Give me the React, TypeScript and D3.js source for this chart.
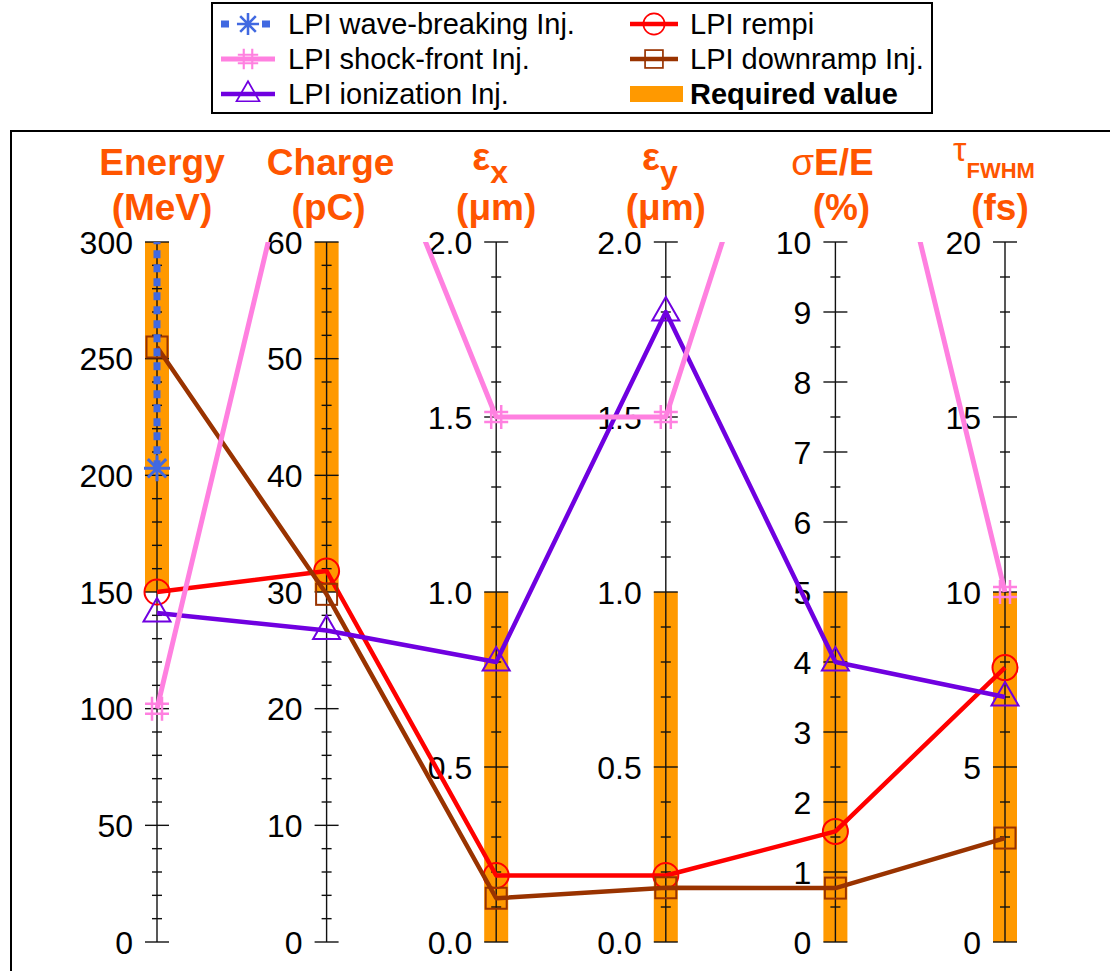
import React, { useEffect, useRef } from "react";
import * as d3 from "d3";

// ---- data ----
const axisNames = ["Energy", "Charge", "εx", "εy", "σE/E", "τFWHM"];
const axisMax = [300, 60, 2.0, 2.0, 10, 20];
const majorStep = [50, 10, 0.5, 0.5, 1, 5];
const minorStep = [10, 2, 0.1, 0.1, 0.5, 1];
const tickDecimals = [0, 0, 1, 1, 0, 0];
const requiredLow = [150, 30, 0, 0, 0, 0];
const requiredHigh = [300, 60, 1.0, 1.0, 5, 10];

const rempi = [150, 31.8, 0.19, 0.19, 1.58, 7.84];
const downramp = [255, 29.8, 0.125, 0.155, 0.77, 2.97];
const ionization = [141, 26.7, 0.8, 1.8, 4.0, 7.0];
const shockFront = [100, 81, 1.5, 1.5, 15, 10];
const waveBreakingEnergy = [203, 300];

const legendLabels = [
  "LPI wave-breaking Inj.",
  "LPI shock-front Inj.",
  "LPI ionization Inj.",
  "LPI rempi",
  "LPI downramp Inj.",
  "Required value",
];

const C = {
  orange: "#ff9900",
  header: "#ff5500",
  blue: "#4169e1",
  pink: "#ff80e0",
  purple: "#7000e0",
  red: "#ff0000",
  brown: "#993300",
};

const FONT = "'Liberation Sans', Arial, Helvetica, sans-serif";

type Sel = d3.Selection<SVGGElement, unknown, null, undefined>;

function drawMarker(g: Sel, kind: string, x: number, y: number, color: string, s = 1) {
  const m = g.append("g").attr("transform", `translate(${x},${y}) scale(${s})`).attr("fill", "none").attr("stroke", color);
  if (kind === "circle") {
    m.append("circle").attr("r", 12.5).attr("stroke-width", 2);
  } else if (kind === "square") {
    m.append("rect").attr("x", -10.5).attr("y", -10.5).attr("width", 21).attr("height", 21).attr("stroke-width", 2);
  } else if (kind === "triangle") {
    m.append("path").attr("d", "M0,-15 L13.5,8.5 L-13.5,8.5 Z").attr("stroke-width", 2);
  } else if (kind === "hash") {
    const p = d3.path();
    [-5, 5].forEach((o) => {
      p.moveTo(o, -12); p.lineTo(o, 12);
      p.moveTo(-12, o); p.lineTo(12, o);
    });
    m.append("path").attr("d", p.toString()).attr("stroke-width", 2.5);
  } else if (kind === "star") {
    const p = d3.path();
    for (let i = 0; i < 4; i++) {
      const a = (i * Math.PI) / 4;
      p.moveTo(-13 * Math.cos(a), -13 * Math.sin(a));
      p.lineTo(13 * Math.cos(a), 13 * Math.sin(a));
    }
    m.append("path").attr("d", p.toString()).attr("stroke-width", 3);
  }
}

export default function App() {
  const ref = useRef<SVGSVGElement>(null);

  useEffect(() => {
    const svg = d3.select(ref.current!);
    svg.selectAll("*").remove();
    const root = svg.append("g") as unknown as Sel;

    const W = 1110, H = 971;
    const top = 242, bottom = 942;
    const xScale = d3.scalePoint<string>().domain(axisNames).range([157, 1005]);
    const yScales = axisMax.map((m) => d3.scaleLinear().domain([0, m]).range([bottom, top]));
    const X = (i: number) => xScale(axisNames[i])!;

    // frame
    root.append("rect").attr("x", 11).attr("y", 131).attr("width", W + 20).attr("height", H).attr("fill", "none").attr("stroke", "#000").attr("stroke-width", 2);

    const defs = svg.append("defs");
    defs.append("clipPath").attr("id", "plotclip").append("rect").attr("x", 0).attr("y", top).attr("width", W).attr("height", H - top);

    // required value bars
    axisNames.forEach((_, i) => {
      const y = yScales[i];
      root.append("rect")
        .attr("x", X(i) - 12).attr("width", 24)
        .attr("y", y(requiredHigh[i])).attr("height", y(requiredLow[i]) - y(requiredHigh[i]))
        .attr("fill", C.orange);
    });

    // axes
    axisNames.forEach((_, i) => {
      const x = X(i);
      const y = yScales[i];
      const g = root.append("g");
      g.append("line").attr("x1", x).attr("x2", x).attr("y1", top).attr("y2", bottom).attr("stroke", "#111").attr("stroke-width", 1.4);
      const minors = d3.range(0, axisMax[i] + 1e-9, minorStep[i]);
      minors.forEach((v) => {
        const isMajor = Math.abs(v / majorStep[i] - Math.round(v / majorStep[i])) < 1e-6;
        const hw = isMajor ? 12 : 5;
        g.append("line").attr("x1", x - hw).attr("x2", x + hw).attr("y1", y(v)).attr("y2", y(v)).attr("stroke", "#111").attr("stroke-width", 1.4);
      });
      const majors = d3.range(0, axisMax[i] + 1e-9, majorStep[i]);
      majors.forEach((v) => {
        g.append("text").attr("x", x - 24).attr("y", y(v)).attr("dy", "0.36em")
          .attr("text-anchor", "end").attr("font-family", FONT).attr("font-size", 32).attr("fill", "#000")
          .text(d3.format(`.${tickDecimals[i]}f`)(v));
      });
    });

    // headers
    const hdr = (x: number, y: number) =>
      root.append("text").attr("x", x).attr("y", y).attr("text-anchor", "middle").attr("font-family", FONT)
        .attr("font-weight", "bold").attr("font-size", 37).attr("fill", C.header);
    const l1 = 175, l2 = 220;
    hdr(X(0) + 5, l1).text("Energy");
    hdr(X(0) + 5, l2).text("(MeV)");
    hdr(X(1) + 4, l1).text("Charge");
    hdr(X(1) + 2, l2).text("(pC)");
    [2, 3].forEach((i) => {
      const t = hdr(X(i) - 6, 170);
      t.append("tspan").attr("font-size", 38).text("ε");
      t.append("tspan").attr("dy", 13).attr("font-size", 32).text(i === 2 ? "x" : "y");
      hdr(X(i), l2).text("(μm)");
    });
    {
      const t = hdr(X(4) - 3, l1);
      t.append("tspan").attr("font-weight", "normal").text("σ");
      t.append("tspan").text("E/E");
      hdr(X(4) + 6, l2).text("(%)");
    }
    {
      const t = hdr(X(5) - 11, 161);
      t.append("tspan").attr("font-weight", "normal").attr("font-size", 34).text("τ");
      t.append("tspan").attr("dy", 17).attr("font-size", 22).text("FWHM");
      hdr(X(5) - 5, l2).text("(fs)");
    }

    // series
    const series = [
      { vals: rempi, color: C.red, marker: "circle", w: 4.5 },
      { vals: downramp, color: C.brown, marker: "square", w: 4.5 },
      { vals: ionization, color: C.purple, marker: "triangle", w: 4.5 },
      { vals: shockFront, color: C.pink, marker: "hash", w: 5 },
    ];
    const line = d3.line<[number, number]>().x((d) => d[0]).y((d) => d[1]);
    series.forEach((s) => {
      const pts: [number, number][] = s.vals.map((v, i) => [X(i), yScales[i](v)]);
      root.append("path").attr("d", line(pts)!).attr("fill", "none").attr("stroke", s.color)
        .attr("stroke-width", s.w).attr("stroke-linejoin", "round").attr("clip-path", "url(#plotclip)");
      s.vals.forEach((v, i) => {
        if (v <= axisMax[i]) drawMarker(root, s.marker, X(i), yScales[i](v), s.color);
      });
    });
    // wave-breaking
    {
      const pts: [number, number][] = waveBreakingEnergy.map((v) => [X(0), yScales[0](v)]);
      root.append("path").attr("d", line(pts)!).attr("fill", "none").attr("stroke", C.blue)
        .attr("stroke-width", 7).attr("stroke-dasharray", "8 6").attr("clip-path", "url(#plotclip)");
      drawMarker(root, "star", X(0), yScales[0](waveBreakingEnergy[0]), C.blue);
    }

    // legend
    const lg = root.append("g");
    lg.append("rect").attr("x", 212).attr("y", 3).attr("width", 720).attr("height", 110).attr("fill", "#fff").attr("stroke", "#000").attr("stroke-width", 2);
    const rowY = [24, 59, 94];
    const colLine = [[221, 275], [630, 678]];
    const colText = [288, 690];
    const items = [
      { color: C.blue, marker: "star", dash: "8 33 8", w: 7 },
      { color: C.pink, marker: "hash", dash: null, w: 5 },
      { color: C.purple, marker: "triangle", dash: null, w: 4.5 },
      { color: C.red, marker: "circle", dash: null, w: 4.5 },
      { color: C.brown, marker: "square", dash: null, w: 4.5 },
      { color: C.orange, marker: "bar", dash: null, w: 16 },
    ];
    items.forEach((it, k) => {
      const col = Math.floor(k / 3), row = k % 3;
      const y = rowY[row];
      const [x1, x2] = colLine[col];
      if (it.marker === "bar") {
        lg.append("rect").attr("x", x1).attr("y", y - 8).attr("width", x2 - x1 + 5).attr("height", 16).attr("fill", C.orange);
      } else {
        const l = lg.append("line").attr("x1", x1).attr("x2", x2).attr("y1", y).attr("y2", y)
          .attr("stroke", it.color).attr("stroke-width", it.w);
        if (it.dash) l.attr("stroke-dasharray", it.dash);
        drawMarker(lg, it.marker, (x1 + x2) / 2, y, it.color, 0.85);
      }
      lg.append("text").attr("x", colText[col]).attr("y", y).attr("dy", "0.36em")
        .attr("font-family", FONT).attr("font-size", 29).attr("fill", "#000")
        .attr("font-weight", it.marker === "bar" ? "bold" : "normal")
        .text(legendLabels[k]);
    });
  }, []);

  return (
    <svg
      ref={ref}
      width={1110}
      height={971}
      style={{ position: "absolute", left: 0, top: 0, background: "#fff", display: "block" }}
    />
  );
}
